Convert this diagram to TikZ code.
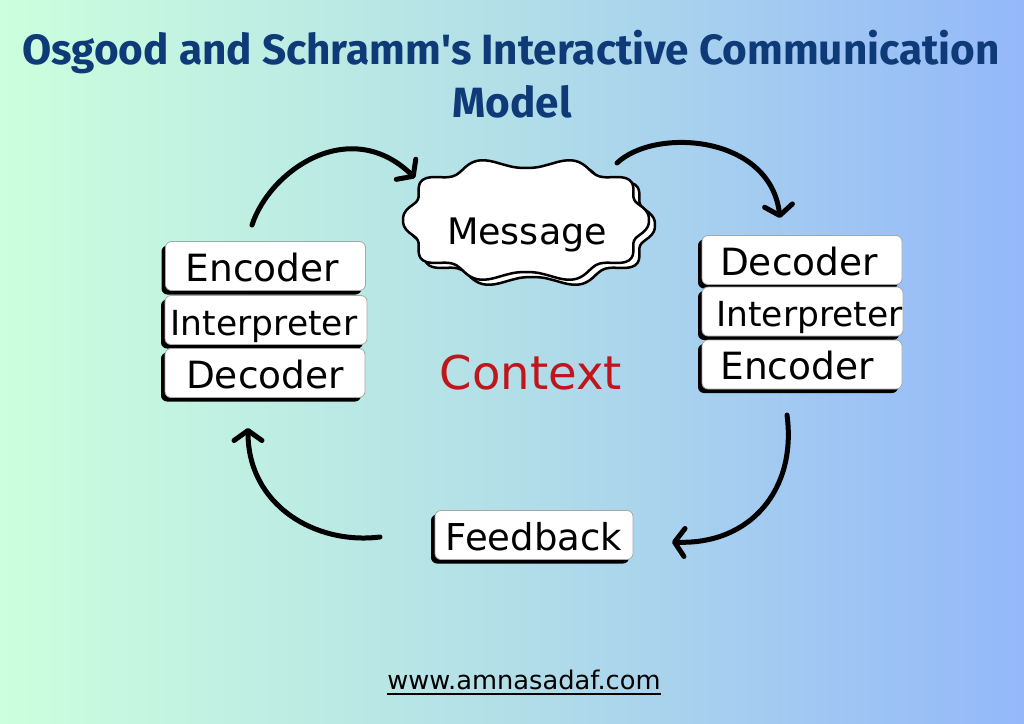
\documentclass[tikz,border=0pt]{standalone}
\usepackage{fontspec}
\setmainfont{DejaVu Sans}
\newfontfamily\titlefont{Fira Sans}
\usetikzlibrary{arrows.meta,shadows}
\definecolor{bgL}{RGB}{204,255,221}
\definecolor{bgM}{RGB}{178,222,232}
\definecolor{bgR}{RGB}{148,184,250}
\definecolor{navy}{RGB}{14,58,120}
\definecolor{ctxred}{RGB}{193,21,28}
\newcommand{\txtshift}[2]{\hbox to 0pt{\hss\kern#1\relax #2\kern-#1\relax\hss}}
\tikzset{
  stackbox/.style={draw=gray!70, line width=0.8pt, fill=white, rounded corners=6pt,
    minimum width=200pt, minimum height=49pt, inner sep=0pt,
    text height=30pt, text depth=0pt,
    font=\fontsize{37.5}{40}\selectfont,
    general shadow={fill=black, shadow xshift=-4pt, shadow yshift=-4pt}},
  smallfont/.style={font=\fontsize{34.5}{38}\selectfont},
  arr/.style={line width=5pt, line cap=round, black,
    -{Straight Barb[length=10pt,width=28pt,round]}},
  cloudline/.style={draw=black, line width=2.5pt, fill=white}
}
% superellipse-like cloud outline: centre (#1,#2)
\newcommand{\cloudpath}[2]{plot[smooth cycle, samples=144, domain=1.25:358.75]
  ({#1+(118+5*cos(10*\x))*(cos(\x)>=0?1:-1)*abs(cos(\x))^0.82},
   {#2+(57+5*cos(10*\x))*(sin(\x)>=0?1:-1)*abs(sin(\x))^0.82})}
\begin{document}
\begin{tikzpicture}[x=1pt,y=-1pt]
\useasboundingbox (0,0) rectangle (1024,723);
\shade[left color=bgL, right color=bgR, middle color=bgM] (0,0) rectangle (1024,723);

% title
\node[anchor=base, text=navy, inner sep=0pt] (t1) at (511,64)
  {\titlefont\bfseries\fontsize{42.3}{48}\selectfont Osgood and Schramm\textquotesingle s Interactive Communication};
\node[anchor=base, text=navy, inner sep=0pt] (t2) at (512,117)
  {\titlefont\bfseries\fontsize{42.3}{48}\selectfont Model};

% cloud
\draw[cloudline] \cloudpath{532}{225};
\draw[cloudline] \cloudpath{526}{220};
\node[anchor=base, inner sep=0pt, font=\fontsize{36.5}{40}\selectfont] (msg) at (527,244) {Message};

% left stack
\node[stackbox] (lenc) at (265.5,266) {\txtshift{-3pt}{Encoder}};
\node[stackbox, smallfont, minimum width=202pt] (lint) at (266,320) {\txtshift{-2pt}{Interpreter}};
\node[stackbox] (ldec) at (265,373) {Decoder};

% right stack
\node[stackbox] (rdec) at (802,260) {\txtshift{-3pt}{Decoder}};
\node[stackbox, smallfont, minimum width=201pt] (rint) at (802.5,311.5) {\txtshift{7pt}{Interpreter}};
\node[stackbox] (renc) at (802,364.5) {\txtshift{-5pt}{Encoder}};

% feedback
\node[stackbox, minimum width=198pt, font=\fontsize{37}{40}\selectfont] (fb) at (534,535) {Feedback};

% context
\node[anchor=base, inner sep=0pt, text=ctxred, font=\fontsize{46.5}{50}\selectfont] (ctx) at (531,389) {Context};

% arrows
\coordinate (a1s) at (252,225); \coordinate (a1e) at (415,178);
\coordinate (a2s) at (617,163); \coordinate (a2e) at (780,218);
\coordinate (a3s) at (787,415); \coordinate (a3e) at (672,542);
\coordinate (a4s) at (380,537); \coordinate (a4e) at (248,428);
\draw[arr] (a1s) .. controls (270,170) and (350,115) .. (a1e);
\draw[arr] (a2s) .. controls (655,127) and (770,135) .. (a2e);
\draw[arr] (a3s) .. controls (797,490) and (750,545) .. (a3e);
\draw[arr] (a4s) .. controls (315,545) and (248,505) .. (a4e);

% url
\node[anchor=base, inner sep=0pt, font=\fontsize{25.7}{28}\selectfont] (url) at (524,689) {www.amnasadaf.com};
\draw[line width=2pt] ([yshift=-4.5pt]url.base west) -- ([yshift=-4.5pt]url.base east);
\end{tikzpicture}
\end{document}
